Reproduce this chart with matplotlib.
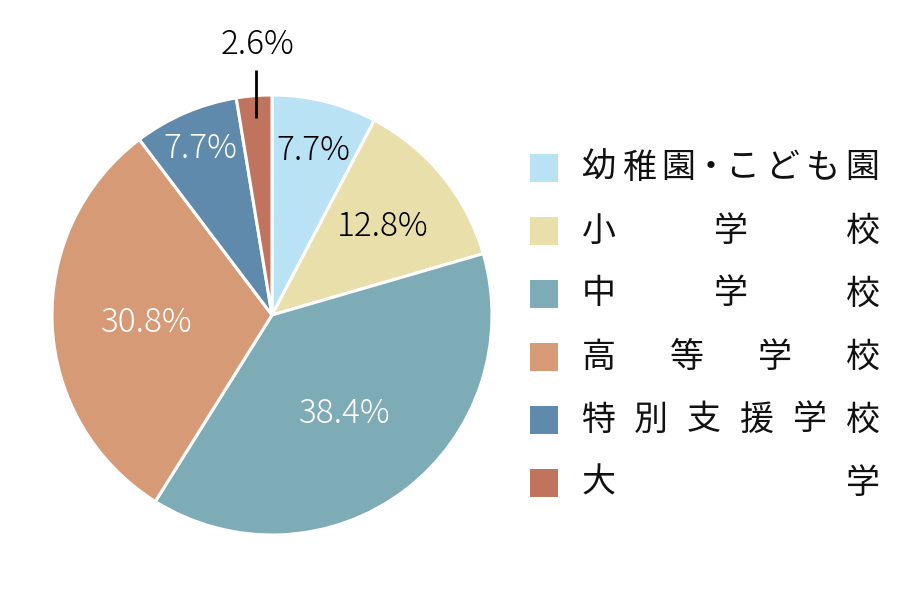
import matplotlib
matplotlib.use("Agg")
import matplotlib.pyplot as plt
import numpy as np
from matplotlib.patches import Rectangle

plt.rcParams["font.family"] = ["Noto Sans CJK JP", "DejaVu Sans"]

# data
categories = ["幼稚園・こども園", "小学校", "中学校", "高等学校", "特別支援学校", "大学"]
shares = [7.7, 12.8, 38.4, 30.8, 7.7, 2.6]
colors = ["#b9e2f4", "#e9dfaa", "#7eacb6", "#d69a76", "#5f8aab", "#c0735d"]
label_colors = ["black", "black", "white", "white", "white", "black"]
label_dist = [0.78, 0.65, 0.55, 0.57, 0.83, None]

W, H = 900, 600
fig = plt.figure(figsize=(9, 6), dpi=100)
ax = fig.add_axes([0, 0, 1, 1])

cx, cy, r = 272, H - 315, 220
wedges, _ = ax.pie(shares, colors=colors, startangle=90, counterclock=False,
                   center=(cx, cy), radius=r, frame=True,
                   wedgeprops=dict(edgecolor="white", linewidth=2.2))
ax.set_xlim(0, W)
ax.set_ylim(0, H)
ax.set_aspect("equal")
ax.axis("off")

pct_font = dict(fontsize=24, fontweight="light", ha="center", va="center")
for w, val, tc, d in zip(wedges, shares, label_colors, label_dist):
    mid = np.deg2rad((w.theta1 + w.theta2) / 2)
    if d is None:
        # small slice: label outside with leader line
        x0 = cx + 0.9 * r * np.cos(mid)
        ax.plot([x0, x0], [cy + 0.895 * r, cy + 1.115 * r], color="black", lw=2, solid_capstyle="butt")
        ax.text(x0 + 2, cy + 1.23 * r, f"{val}%", color=tc, **pct_font)
        continue
    ax.text(cx + d * r * np.cos(mid), cy + d * r * np.sin(mid) - 2, f"{val}%", color=tc, **pct_font)

# legend with justified labels
left, right, cw = 582, 879, 33
row_y = [168 + 63 * i for i in range(len(categories))]
for name, col, ypx in zip(categories, colors, row_y):
    y = H - ypx
    ax.add_patch(Rectangle((530, y - 14), 28, 28, color=col, lw=0))
    widths = [0.5 * cw if ch == "・" else cw for ch in name]
    gap = (right - left - sum(widths)) / (len(name) - 1)
    x = left
    for ch, wd in zip(name, widths):
        ax.text(x + wd / 2, y, ch, ha="center", va="center", fontsize=24.5, color="#111111")
        x += wd + gap

fig.savefig("out.png", dpi=100)
